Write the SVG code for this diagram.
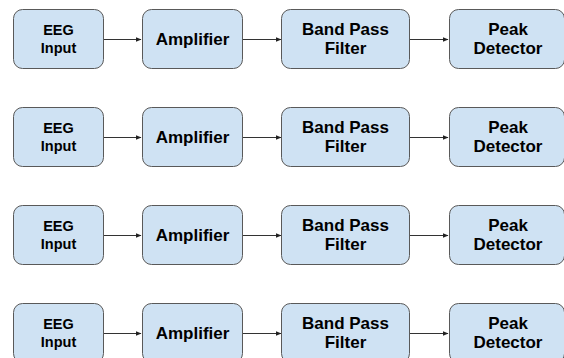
<svg xmlns="http://www.w3.org/2000/svg" width="564" height="358" viewBox="0 0 564 358">
  <style>
    .box { fill: #cfe2f3; stroke: #595959; stroke-width: 1; }
    .lbl { font-family: "Liberation Sans", Arial, sans-serif; font-weight: bold; fill: #000; text-anchor: middle; }
    .sm { font-size: 14.5px; }
    .lg { font-size: 17px; }
    .edge { stroke: #333; stroke-width: 1; fill: none; marker-end: url(#arrow); }
  </style>
  <defs>
    <marker id="arrow" markerWidth="6" markerHeight="6" refX="5" refY="3" orient="auto" markerUnits="userSpaceOnUse">
      <path d="M0,0.8 L5.5,3 L0,5.2 Z" fill="#222"/>
    </marker>
  </defs>
  <rect width="564" height="358" fill="#ffffff"/>

  <!-- connectors -->
  <g id="connectors">
    <path class="edge" d="M103.5,39.5 H141"/>
    <path class="edge" d="M242.5,39.5 H281"/>
    <path class="edge" d="M409.5,39.5 H448"/>
    <path class="edge" d="M103.5,137.5 H141"/>
    <path class="edge" d="M242.5,137.5 H281"/>
    <path class="edge" d="M409.5,137.5 H448"/>
    <path class="edge" d="M103.5,235.5 H141"/>
    <path class="edge" d="M242.5,235.5 H281"/>
    <path class="edge" d="M409.5,235.5 H448"/>
    <path class="edge" d="M103.5,333.5 H141"/>
    <path class="edge" d="M242.5,333.5 H281"/>
    <path class="edge" d="M409.5,333.5 H448"/>
  </g>

  <!-- row 1 -->
  <g id="eeg1" transform="translate(0,0)">
    <rect class="box" x="13.5" y="9.5" width="90" height="59" rx="9"/>
    <text class="lbl sm" x="58.5" y="35">EEG</text>
    <text class="lbl sm" x="58.5" y="52.5">Input</text>
  </g>
  <g id="amp1" transform="translate(0,0)">
    <rect class="box" x="142.5" y="9.5" width="100" height="59" rx="9"/>
    <text class="lbl lg" x="192.5" y="45">Amplifier</text>
  </g>
  <g id="bpf1" transform="translate(0,0)">
    <rect class="box" x="281.5" y="9.5" width="128" height="59" rx="9"/>
    <text class="lbl lg" x="345.5" y="35">Band Pass</text>
    <text class="lbl lg" x="345.5" y="54">Filter</text>
  </g>
  <g id="peak1" transform="translate(0,0)">
    <rect class="box" x="449.5" y="9.5" width="115" height="59" rx="9"/>
    <text class="lbl lg" x="508" y="35">Peak</text>
    <text class="lbl lg" x="508" y="54">Detector</text>
  </g>

  <!-- row 2 -->
  <g id="eeg2" transform="translate(0,98)">
    <rect class="box" x="13.5" y="9.5" width="90" height="59" rx="9"/>
    <text class="lbl sm" x="58.5" y="35">EEG</text>
    <text class="lbl sm" x="58.5" y="52.5">Input</text>
  </g>
  <g id="amp2" transform="translate(0,98)">
    <rect class="box" x="142.5" y="9.5" width="100" height="59" rx="9"/>
    <text class="lbl lg" x="192.5" y="45">Amplifier</text>
  </g>
  <g id="bpf2" transform="translate(0,98)">
    <rect class="box" x="281.5" y="9.5" width="128" height="59" rx="9"/>
    <text class="lbl lg" x="345.5" y="35">Band Pass</text>
    <text class="lbl lg" x="345.5" y="54">Filter</text>
  </g>
  <g id="peak2" transform="translate(0,98)">
    <rect class="box" x="449.5" y="9.5" width="115" height="59" rx="9"/>
    <text class="lbl lg" x="508" y="35">Peak</text>
    <text class="lbl lg" x="508" y="54">Detector</text>
  </g>

  <!-- row 3 -->
  <g id="eeg3" transform="translate(0,196)">
    <rect class="box" x="13.5" y="9.5" width="90" height="59" rx="9"/>
    <text class="lbl sm" x="58.5" y="35">EEG</text>
    <text class="lbl sm" x="58.5" y="52.5">Input</text>
  </g>
  <g id="amp3" transform="translate(0,196)">
    <rect class="box" x="142.5" y="9.5" width="100" height="59" rx="9"/>
    <text class="lbl lg" x="192.5" y="45">Amplifier</text>
  </g>
  <g id="bpf3" transform="translate(0,196)">
    <rect class="box" x="281.5" y="9.5" width="128" height="59" rx="9"/>
    <text class="lbl lg" x="345.5" y="35">Band Pass</text>
    <text class="lbl lg" x="345.5" y="54">Filter</text>
  </g>
  <g id="peak3" transform="translate(0,196)">
    <rect class="box" x="449.5" y="9.5" width="115" height="59" rx="9"/>
    <text class="lbl lg" x="508" y="35">Peak</text>
    <text class="lbl lg" x="508" y="54">Detector</text>
  </g>

  <!-- row 4 -->
  <g id="eeg4" transform="translate(0,294)">
    <rect class="box" x="13.5" y="9.5" width="90" height="59" rx="9"/>
    <text class="lbl sm" x="58.5" y="35">EEG</text>
    <text class="lbl sm" x="58.5" y="52.5">Input</text>
  </g>
  <g id="amp4" transform="translate(0,294)">
    <rect class="box" x="142.5" y="9.5" width="100" height="59" rx="9"/>
    <text class="lbl lg" x="192.5" y="45">Amplifier</text>
  </g>
  <g id="bpf4" transform="translate(0,294)">
    <rect class="box" x="281.5" y="9.5" width="128" height="59" rx="9"/>
    <text class="lbl lg" x="345.5" y="35">Band Pass</text>
    <text class="lbl lg" x="345.5" y="54">Filter</text>
  </g>
  <g id="peak4" transform="translate(0,294)">
    <rect class="box" x="449.5" y="9.5" width="115" height="59" rx="9"/>
    <text class="lbl lg" x="508" y="35">Peak</text>
    <text class="lbl lg" x="508" y="54">Detector</text>
  </g>
</svg>
